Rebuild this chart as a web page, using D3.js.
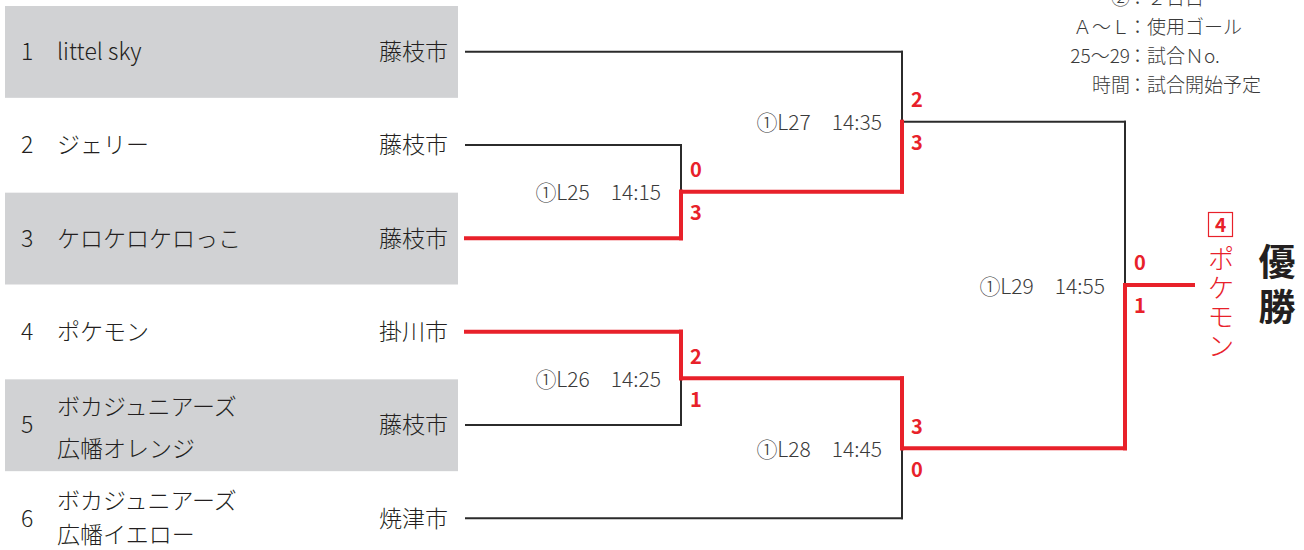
<!DOCTYPE html>
<html><head><meta charset="utf-8">
<script src="https://cdn.jsdelivr.net/npm/d3@7"></script>
<style>
html,body{margin:0;padding:0;background:#fff;}
svg{display:block;font-family:"Noto Sans CJK JP","Noto Sans",sans-serif;}
.lt{font-weight:300;}
</style></head>
<body>
<svg id="c" width="1304" height="550"></svg>
<script>
// ---- data ----
const seeds = [1, 2, 3, 4, 5, 6];
const teamNames = [["littel sky"], ["ジェリー"], ["ケロケロケロっこ"], ["ポケモン"], ["ボカジュニアーズ", "広幡オレンジ"], ["ボカジュニアーズ", "広幡イエロー"]];
const cities = ["藤枝市", "藤枝市", "藤枝市", "掛川市", "藤枝市", "焼津市"];
const shaded = [true, false, true, false, true, false];

const matchIds = ["L25", "L26", "L27", "L28", "L29"];
const matchDay = ["①", "①", "①", "①", "①"];
const matchTimes = ["14:15", "14:25", "14:35", "14:45", "14:55"];
const matchRounds = [1, 1, 2, 2, 3];
const matchTop = ["T2", "T4", "T1", "L26", "L27"];
const matchBottom = ["T3", "T5", "L25", "T6", "L28"];
const topScores = [0, 2, 2, 3, 0];
const bottomScores = [3, 1, 3, 0, 1];

const championSeed = 4;
const championName = "ポケモン";
const championTitle = "優勝";

const legendKeys = ["②", "Ａ～Ｌ", "25～29", "時間"];
const legendVals = ["２日目", "使用ゴール", "試合Ｎo.", "試合開始予定"];

// ---- drawing ----
const svg = d3.select("#c");
const RED = "#e8212a", BLACK = "#2b2b2b", GRAY = "#d1d2d4", TXT = "#231f20";

const y = d3.scaleBand().domain(seeds).range([5, 565]);
const x = d3.scaleLinear().domain([0, 1, 2, 3]).range([466, 681, 902, 1125]);
const finalX = 1193;

// rows
const rows = svg.append("g").attr("class", "lt");
seeds.forEach((s, i) => {
  const yc = y(s) + y.bandwidth() / 2;
  if (shaded[i]) rows.append("rect").attr("x", 5).attr("y", y(s) + 1).attr("width", 453).attr("height", y.bandwidth() - 1.5).attr("fill", GRAY);
  rows.append("text").attr("x", 21).attr("y", yc).attr("dy", "0.36em").attr("font-size", 23).attr("fill", TXT).text(s);
  const nm = teamNames[i];
  if (nm.length === 1) {
    rows.append("text").attr("x", 57).attr("y", yc).attr("dy", "0.36em").attr("font-size", 23).attr("fill", TXT).text(nm[0]);
  } else {
    const off2 = Math.min(24, 550 - 15 - yc);
    rows.append("text").attr("x", 57).attr("y", yc - 18).attr("dy", "0.36em").attr("font-size", 23).attr("fill", TXT).text(nm[0]);
    rows.append("text").attr("x", 57).attr("y", yc + off2).attr("dy", "0.36em").attr("font-size", 23).attr("fill", TXT).text(nm[1]);
  }
  rows.append("text").attr("x", 448).attr("y", yc).attr("dy", "0.36em").attr("text-anchor", "end").attr("font-size", 23).attr("fill", TXT).text(cities[i]);
});

// node positions
const nodes = {};
seeds.forEach(s => { nodes["T" + s] = { x: x(0), y: y(s) + y.bandwidth() / 2 }; });
matchIds.forEach((id, i) => {
  const a = nodes[matchTop[i]], b = nodes[matchBottom[i]];
  const mx = x(matchRounds[i]);
  const my = (a.y + b.y) / 2;
  const topWins = topScores[i] > bottomScores[i];
  nodes[id] = { x: mx, y: my, a, b, topWins };
});

const lines = svg.append("g").attr("fill", "none").attr("stroke-linecap", "square");
function seg(x1, y1, x2, y2, red) {
  lines.append("line").attr("x1", x1).attr("y1", y1).attr("x2", x2).attr("y2", y2)
    .attr("stroke", red ? RED : BLACK).attr("stroke-width", red ? 4 : 2);
}
const redSegs = [];
matchIds.forEach((id) => {
  const n = nodes[id];
  [[n.a, n.topWins], [n.b, !n.topWins]].forEach(([c, w]) => {
    const s1 = [c.x, c.y, n.x, c.y];
    const s2 = [n.x, c.y, n.x, n.y];
    if (w) redSegs.push(s1, s2); else { seg(...s1, false); seg(...s2, false); }
  });
});
const fin = nodes["L29"];
redSegs.push([fin.x, fin.y, finalX, fin.y]);
redSegs.forEach(s => seg(...s, true));

// match labels and scores
matchIds.forEach((id, i) => {
  const n = nodes[id];
  svg.append("text").attr("class", "lt").attr("x", n.x - 20).attr("y", n.y + 1).attr("dy", "0.36em")
    .attr("text-anchor", "end").attr("font-size", 21).attr("fill", "#3a3a3a")
    .attr("xml:space", "preserve").text(matchDay[i] + id + "\u2002\u2002" + matchTimes[i]);
  svg.append("text").attr("x", n.x + 9).attr("y", n.y - 22).attr("dy", "0.36em")
    .attr("font-size", 20).attr("font-weight", "bold").attr("fill", RED).text(topScores[i]);
  svg.append("text").attr("x", n.x + 9).attr("y", n.y + 21).attr("dy", "0.36em")
    .attr("font-size", 20).attr("font-weight", "bold").attr("fill", RED).text(bottomScores[i]);
});

// champion
const cg = svg.append("g");
cg.append("rect").attr("x", 1208.5).attr("y", 212.5).attr("width", 24).attr("height", 24)
  .attr("fill", "none").attr("stroke", RED).attr("stroke-width", 1.2);
cg.append("text").attr("x", 1220.5).attr("y", 225).attr("dy", "0.36em").attr("text-anchor", "middle")
  .attr("font-size", 19).attr("font-weight", "bold").attr("fill", RED).text(championSeed);
cg.append("text").attr("class", "lt").attr("x", 1221).attr("y", 245)
  .style("writing-mode", "vertical-rl").style("letter-spacing", "2px")
  .attr("font-size", 27).attr("fill", RED).text(championName);
cg.append("text").attr("x", 1277).attr("y", 243)
  .style("writing-mode", "vertical-rl").style("letter-spacing", "8px")
  .attr("font-size", 37).attr("font-weight", "bold").attr("fill", "#231f20").text(championTitle);

// legend
const lg = svg.append("g").attr("class", "lt").attr("font-size", 19).attr("fill", "#3a3a3a");
legendKeys.forEach((k, i) => {
  const ly = -2 + i * 29;
  lg.append("text").attr("x", 1130).attr("y", ly).attr("dy", "0.36em").attr("text-anchor", "end").text(k);
  lg.append("text").attr("x", 1128).attr("y", ly).attr("dy", "0.36em").text("：" + legendVals[i]);
});
</script>
</body></html>
